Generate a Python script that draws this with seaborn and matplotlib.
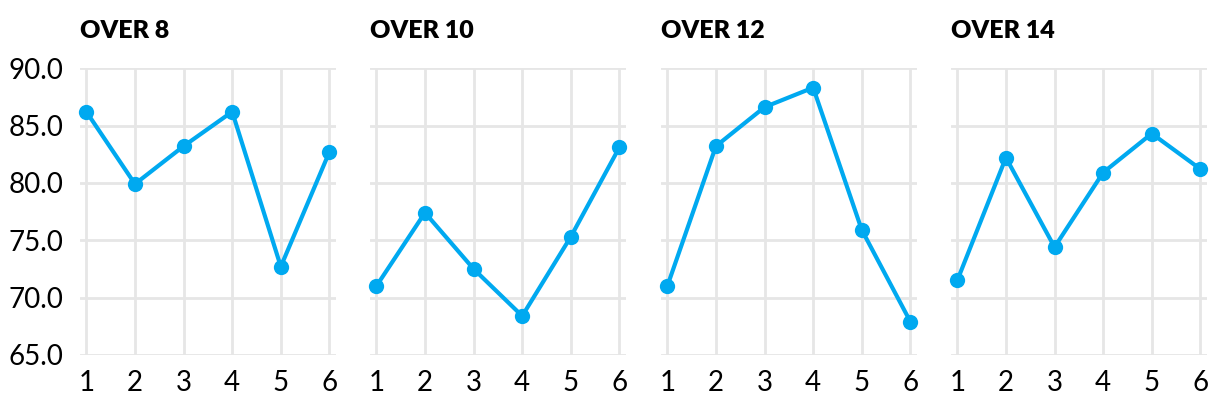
import pandas as pd
import seaborn as sns
import matplotlib.pyplot as plt

# data
positions = [1, 2, 3, 4, 5, 6]
titles = ['OVER 8', 'OVER 10', 'OVER 12', 'OVER 14']
over_8 = [86.2, 79.9, 83.2, 86.2, 72.7, 82.7]
over_10 = [71.0, 77.4, 72.5, 68.4, 75.3, 83.1]
over_12 = [71.0, 83.2, 86.6, 88.3, 75.9, 67.9]
over_14 = [71.5, 82.2, 74.4, 80.9, 84.3, 81.2]
y_ticks = [65.0, 70.0, 75.0, 80.0, 85.0, 90.0]

series = [over_8, over_10, over_12, over_14]
df = pd.concat(
    [pd.DataFrame({'over': t, 'pos': positions, 'value': v}) for t, v in zip(titles, series)],
    ignore_index=True,
)

sns.set_style('white')
plt.rcParams['font.family'] = ['Lato', 'DejaVu Sans']

fig = plt.figure(figsize=(12.2, 4.08), dpi=100)
lefts = [0.0656, 0.3033, 0.5418, 0.7795]
blue = '#00a9f0'

for i, (left, title) in enumerate(zip(lefts, titles)):
    ax = fig.add_axes([left, 0.13, 0.21, 0.703])
    sns.lineplot(
        data=df[df['over'] == title], x='pos', y='value', ax=ax,
        color=blue, linewidth=3, marker='o', markersize=11,
        markeredgewidth=0, clip_on=False,
    )
    ax.set_xlim(0.87, 6.14)
    ax.set_ylim(65, 90)
    ax.set_xticks(positions)
    ax.set_yticks(y_ticks)
    ax.grid(True, color='#e6e6e6', linewidth=2)
    ax.set_axisbelow(True)
    for s in ax.spines.values():
        s.set_visible(False)
    ax.tick_params(length=0, labelsize=20, colors='black', pad=11)
    ax.tick_params(axis='y', pad=12)
    if i == 0:
        ax.set_yticklabels([f'{t:.1f}' for t in y_ticks])
    else:
        ax.set_yticklabels([])
    ax.set_xlabel('')
    ax.set_ylabel('')
    ax.set_title(title, loc='left', fontsize=18, fontweight='heavy',
                 color='black', pad=22, x=0)

fig.savefig('out.png', dpi=100)
